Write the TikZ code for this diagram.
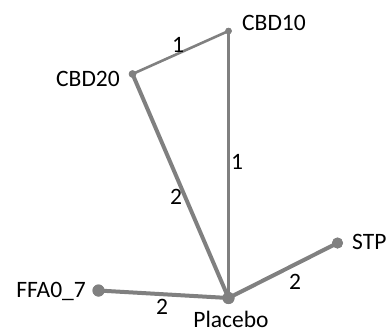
\documentclass[tikz,border=0pt]{standalone}
\usepackage{fontspec}
\setmainfont{Carlito}
\definecolor{edgegray}{RGB}{128,128,128}
\begin{document}
\begin{tikzpicture}[x=1pt,y=-1pt,
  every node/.style={font=\fontsize{23.5}{23.5}\selectfont, text=black, inner sep=0pt},
  dot/.style={circle, fill=edgegray, draw=none, inner sep=0pt},
  thin edge/.style={draw=edgegray, line width=2.6pt},
  thick edge/.style={draw=edgegray, line width=4pt},
  elabel/.style={font=\fontsize{23.5}{23.5}\selectfont}]
\useasboundingbox (0,0) rectangle (387,333);
% nodes
\node[dot, minimum size=6.5pt] (cbd10) at (228.5,31) {};
\node[dot, minimum size=7.5pt] (cbd20) at (132.5,74) {};
\node[dot, minimum size=12pt] (placebo) at (228.5,298) {};
\node[dot, minimum size=11pt] (stp) at (337.5,243) {};
\node[dot, minimum size=12pt] (ffa) at (98.5,290.5) {};
% edges
\draw[thin edge] (cbd20.center) -- (cbd10.center);
\draw[thin edge] (cbd10.center) -- (placebo.center);
\draw[thick edge] (cbd20.center) -- (placebo.center);
\draw[thick edge] (ffa.center) -- (placebo.center);
\draw[thick edge] (stp.center) -- (placebo.center);
% redraw dots on top
\fill[edgegray] (cbd10.center) circle (3.25pt);
\fill[edgegray] (cbd20.center) circle (3.75pt);
\fill[edgegray] (placebo.center) circle (6pt);
\fill[edgegray] (stp.center) circle (5.5pt);
\fill[edgegray] (ffa.center) circle (6pt);
% node labels
\node[anchor=base west] (tcbd10) at (242,30) {CBD10};
\node[anchor=base east] (tcbd20) at (120,86) {CBD20};
\node[anchor=base west] (tstp) at (352,249) {STP};
\node[anchor=base east] (tffa) at (86,297) {FFA0\_7};
\node[anchor=base] (tplacebo) at (231,327) {Placebo};
% edge labels
\node[elabel, anchor=base] (l1) at (178,52) {1};
\node[elabel, anchor=base] (l2) at (237,169) {1};
\node[elabel, anchor=base] (l3) at (176,204) {2};
\node[elabel, anchor=base] (l4) at (295,289) {2};
\node[elabel, anchor=base] (l5) at (162,314) {2};
\end{tikzpicture}
\end{document}
